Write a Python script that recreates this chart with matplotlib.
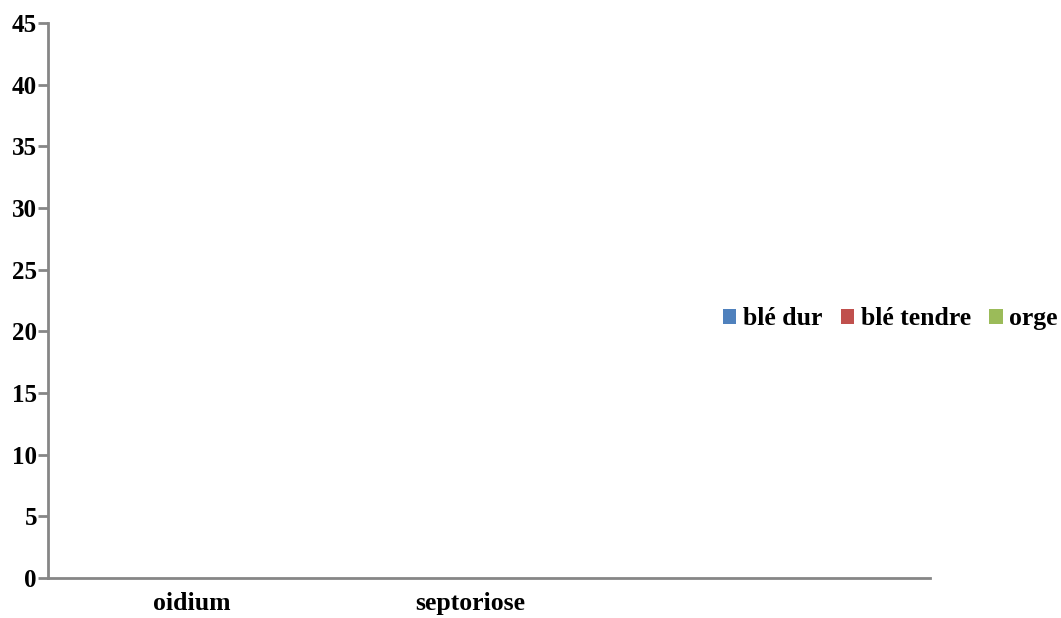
import matplotlib.pyplot as plt
import numpy as np

categories = ['oidium', 'septoriose', '']
series_names = ['blé dur', 'blé tendre', 'orge']
ble_dur = [0, 0, 0]
ble_tendre = [0, 0, 0]
orge = [0, 0, 0]
colors = ['#4f81bd', '#c0504d', '#9bbb59']
yticks = [0, 5, 10, 15, 20, 25, 30, 35, 40, 45]

plt.rcParams['font.family'] = ['Liberation Serif', 'DejaVu Serif']
plt.rcParams['font.weight'] = 'bold'

fig = plt.figure(figsize=(10.61, 6.18), dpi=100)
ax = fig.add_axes([48 / 1061, 1 - 578 / 618, (930 - 48) / 1061, (578 - 23) / 618])

x = np.arange(len(categories))
width = 0.25
for i, (vals, name) in enumerate(zip([ble_dur, ble_tendre, orge], series_names)):
    ax.bar(x + (i - 1) * width, vals, width, color=colors[i], label=name)

ax.set_xlim(-0.518, 2.655)
ax.set_ylim(0, 45)
ax.set_yticks(yticks)
ax.set_xticks(x)
ax.set_xticklabels(categories, fontsize=18.5, fontweight='bold')
ax.tick_params(axis='y', labelsize=18, length=7, width=2, color='#868686', pad=1)
ax.tick_params(axis='x', length=0, pad=10)
for lab in ax.get_yticklabels():
    lab.set_fontweight('bold')

for side in ['top', 'right']:
    ax.spines[side].set_visible(False)
for side in ['left', 'bottom']:
    ax.spines[side].set_color('#868686')
    ax.spines[side].set_linewidth(2)

leg = ax.legend(loc='center left', bbox_to_anchor=(0.765, 0.467), ncol=3, frameon=False,
                prop={'size': 18.5, 'weight': 'bold'}, handlelength=0.53, handleheight=0.53,
                handletextpad=0.25, columnspacing=0.72, borderpad=0, borderaxespad=0)

fig.savefig('out.png', dpi=100)
